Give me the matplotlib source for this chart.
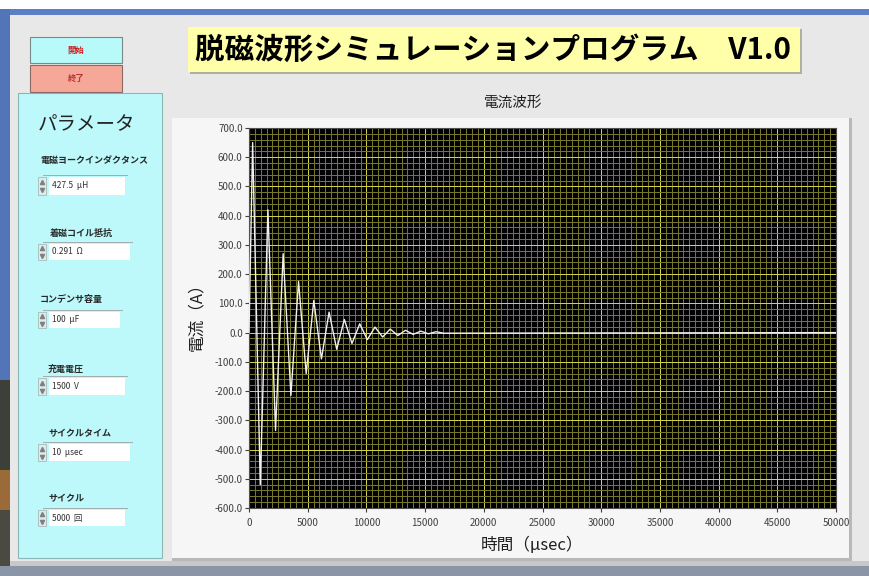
import matplotlib
matplotlib.use("Agg")
import matplotlib.pyplot as plt
from matplotlib.patches import Rectangle
from matplotlib.ticker import MultipleLocator, FixedLocator, FormatStrFormatter

plt.rcParams['font.family'] = ['Noto Sans CJK JP', 'DejaVu Sans']

# === Data ===
# turning points of the discharge current (time in usec, current in A)
t_us = [0, 310, 960, 1610, 2260, 2910, 3570, 4220, 4870, 5520, 6170, 6820,
        7470, 8120, 8770, 9430, 10080, 10730, 11380, 12030, 12680, 13330,
        13980, 14630, 15280, 15930, 16580, 50000]
current_a = [0, 650, -520, 420, -335, 270, -215, 175, -140, 110, -90, 70,
             -57, 45, -37, 30, -24, 19, -15, 12, -10, 8, -6, 5, -4, 3, -2, 0]

x_ticks = [0, 5000, 10000, 15000, 20000, 25000, 30000, 35000, 40000, 45000, 50000]
y_ticks = [-600, -500, -400, -300, -200, -100, 0, 100, 200, 300, 400, 500, 600, 700]

param_labels = ["電磁ヨークインダクタンス", "着磁コイル抵抗", "コンデンサ容量",
                "充電電圧", "サイクルタイム", "サイクル"]
param_values = ["427.5  μH", "0.291  Ω", "100  μF", "1500  V", "10  μsec", "5000  回"]

W, H = 869, 576
fig = plt.figure(figsize=(W / 100, H / 100), dpi=100)

# === Panel background (pixel coordinates) ===
bg = fig.add_axes([0, 0, 1, 1])
bg.set_xlim(0, W)
bg.set_ylim(H, 0)
bg.axis('off')


def box(x0, y0, x1, y1, fc, ec='none', lw=0, z=1):
    bg.add_patch(Rectangle((x0, y0), x1 - x0, y1 - y0, facecolor=fc,
                           edgecolor=ec, linewidth=lw, zorder=z))


box(0, 0, W, H, '#e8e8e8', z=0)
box(0, 0, W, 9, '#ffffff')
box(0, 9, W, 15, '#5b7fc4')
box(0, 9, 10, 380, '#5275b8')
box(0, 380, 10, 470, '#3c4038')
box(0, 470, 10, 510, '#9a6a38')
box(0, 510, 10, H, '#4a4a42')
box(10, 561, W, 566, '#c8c8c8')
box(0, 566, W, H, '#8a96a8')

# buttons
box(30, 37, 122, 63, '#b8fafa', ec='#7a8a8a', lw=0.8, z=2)
box(30, 65, 122, 92, '#f6a898', ec='#8a6a62', lw=0.8, z=2)
bg.text(76, 50, "開始", fontsize=6, color='#d01818', fontweight='bold',
        ha='center', va='center', zorder=3)
bg.text(76, 78, "終了", fontsize=6, color='#b83030', fontweight='bold',
        ha='center', va='center', zorder=3)

# parameter panel
box(18, 93, 162, 558, '#bdf8fa', ec='#8ab8b8', lw=0.8, z=1)
bg.text(38, 125, "パラメータ", fontsize=14, color='#222222', va='center', zorder=3)

label_y = [161, 233, 299, 369, 434, 499]
field_y = [(177, 195), (244, 260), (312, 328), (378, 395), (444, 461), (510, 526)]
field_x1 = [125, 130, 120, 125, 130, 125]
label_x = [40, 50, 40, 48, 48, 48]
for lab, val, ly, (fy0, fy1), fx1, lx in zip(param_labels, param_values,
                                             label_y, field_y, field_x1, label_x):
    bg.text(lx, ly, lab, fontsize=6.5, color='#282828', fontweight='bold',
            va='center', zorder=3)
    box(43, fy0 - 2, fx1 + 3, fy0 - 1, '#a0b0b0', z=2)
    box(49, fy0, fx1, fy1, '#ffffff', z=2)
    bg.text(52, (fy0 + fy1) / 2, val, fontsize=6, color='#303030',
            va='center', zorder=3)
    # spin arrows
    ym = (fy0 + fy1) / 2
    box(38, fy0, 46, fy1, '#dcecec', ec='#a0b0b0', lw=0.5, z=2)
    bg.plot([42], [ym - 4], marker='^', ms=3, color='#808080', zorder=3)
    bg.plot([42], [ym + 4], marker='v', ms=3, color='#808080', zorder=3)

# title banner
box(190, 29, 802, 74, '#b0b0a0', z=1)
box(188, 27, 800, 72, '#ffffaa', z=2)
bg.text(195, 50, "脱磁波形シミュレーションプログラム\u3000V1.0", fontsize=21.3,
        fontweight='bold', color='#000000', va='center', zorder=3)

# graph frame
box(172, 118, 852, 561, '#b8b8b8', z=1)
box(172, 118, 849, 558, '#f6f6f6', z=2)
bg.text(513, 103, "電流波形", fontsize=10.5, color='#202020',
        ha='center', va='center', zorder=3)
bg.text(197, 313, "電流（A）", fontsize=12, color='#202020', rotation=90,
        ha='center', va='center', zorder=3)
bg.text(532, 545, "時間（μsec）", fontsize=12, color='#202020',
        ha='center', va='center', zorder=3)

# === Current waveform plot ===
ax = fig.add_axes([249 / W, 1 - 508 / H, (836 - 249) / W, (508 - 128) / H])
ax.set_facecolor('#000000')
ax.plot(t_us, current_a, color='#f0f0f0', lw=1.0, zorder=3)
ax.set_xlim(0, 50000)
ax.set_ylim(-600, 700)
ax.xaxis.set_major_locator(FixedLocator(x_ticks))
ax.yaxis.set_major_locator(FixedLocator(y_ticks))
ax.xaxis.set_minor_locator(MultipleLocator(500))
ax.yaxis.set_minor_locator(MultipleLocator(20))
ax.yaxis.set_major_formatter(FormatStrFormatter('%.1f'))
ax.grid(which='minor', color='#76762a', lw=0.72)
ax.grid(which='major', color='#d0d048', lw=0.72)
ax.set_axisbelow(True)
ax.tick_params(which='minor', length=0)
ax.tick_params(which='major', direction='out', length=3, width=0.8,
               color='#404040', labelsize=7, labelcolor='#404040', pad=1.5)
ax.tick_params(axis='x', pad=4)
for s in ax.spines.values():
    s.set_color('#505050')
    s.set_linewidth(0.8)

fig.savefig("out.png", dpi=100)
